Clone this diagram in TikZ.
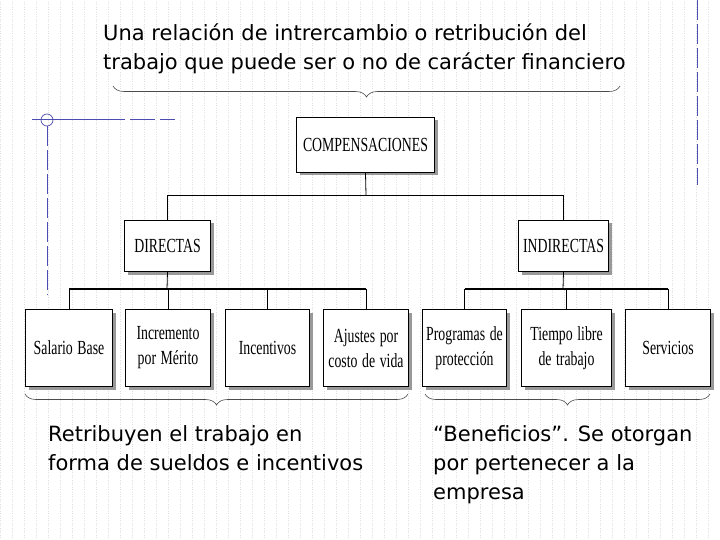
\documentclass[tikz,border=0pt]{standalone}
\usepackage{fontspec}
\usepackage{graphicx}
\setmainfont{DejaVu Sans}
\newfontfamily\boxfont{Liberation Serif}
\newcommand\nb[1]{\scalebox{0.69}[1]{#1}}
\usetikzlibrary{decorations.pathreplacing,shadows}
\begin{document}
\begin{tikzpicture}[x=1pt,y=-1pt,
  bx/.style={draw,line width=1pt,fill=white,inner sep=0pt,anchor=north west,
    drop shadow={shadow xshift=3pt,shadow yshift=-3pt,fill=gray!80,opacity=1},
    font=\boxfont\fontsize{20}{25}\selectfont,align=center,
    text width=#1},
  conn/.style={line width=0.8pt},
  bus/.style={line width=1.6pt},
  br/.style={decorate,decoration={brace,amplitude=11pt,mirror},draw=black!70,line width=0.6pt},
  txt/.style={font=\fontsize{21}{29}\selectfont,align=left,anchor=north west,inner sep=0pt}]
\useasboundingbox (0,0) rectangle (720,540);
\draw[gray!25,dotted,step=12] (0,0) grid (720,540);
% decorations
\draw[blue!40!gray,line width=0.7pt] (32,119) -- (100,119);
\draw[blue!40!gray,line width=0.7pt,dash pattern=on 25pt off 5pt] (100,119) -- (175,119);
\draw[blue!40!gray,line width=0.7pt] (47,120) circle (6);
\draw[blue!40!gray,line width=0.7pt,dash pattern=on 20pt off 4pt] (47,126) -- (47,295);
\draw[blue!40!gray,line width=0.7pt,dash pattern=on 20pt off 4pt] (697,0) -- (697,185);
% top text
\node[txt] (t1) at (103,24) {Una relación de intrercambio o retribución del\\trabajo que puede ser o no de carácter financiero};
\coordinate (b1a) at (113,86); \coordinate (b1b) at (620,86);
\draw[br] (b1a) -- (b1b);
% boxes
\node[bx=138pt,minimum height=55pt] (comp) at (296,117) {\nb{COMPENSACIONES}};
\node[bx=86pt,minimum height=51pt] (dir) at (124,220) {\nb{DIRECTAS}};
\node[bx=90pt,minimum height=51pt] (ind) at (518,220) {\nb{INDIRECTAS}};
\foreach \n/\x/\w/\t in {s1/25/87/\nb{Salario Base},s2/125/85/\nb{Incremento}\\\nb{por Mérito},s3/225/84/\nb{Incentivos},s4/323/85/\nb{Ajustes por}\\\nb{costo de vida},s5/422/84/\nb{Programas de}\\\nb{protección},s6/521/90/\nb{Tiempo libre}\\\nb{de trabajo},s7/625/85/\nb{Servicios}}
  \node[bx=\w pt,minimum height=77pt] (\n) at (\x,309) {\t};
% connectors
\coordinate (j0) at (366,195);
\draw[conn] (comp.south) -- (j0);
\draw[conn] (dir.north) |- (ind.north |- j0) -- (ind.north);
\coordinate (jl) at (167,289); \coordinate (jr) at (563,289);
\draw[conn] (dir.south) -- (jl);
\draw[conn] (ind.south) -- (jr);
\draw[bus] (s1.north |- jl) -- (s4.north |- jl);
\draw[bus] (s5.north |- jr) -- (s7.north |- jr);
\foreach \n in {s1,s2,s3,s4} \draw[conn] (\n.north |- jl) -- (\n.north);
\foreach \n in {s5,s6,s7} \draw[conn] (\n.north |- jr) -- (\n.north);
% bottom braces
\coordinate (b2a) at (25,394); \coordinate (b2b) at (408,394);
\draw[br] (b2a) -- (b2b);
\coordinate (b3a) at (425,394); \coordinate (b3b) at (710,394);
\draw[br] (b3a) -- (b3b);
\node[txt] (t2) at (48,425) {Retribuyen el trabajo en\\forma de sueldos e incentivos};
\node[txt] (t3) at (433,425) {“Beneficios”. Se otorgan\\por pertenecer a la\\empresa};
\end{tikzpicture}
\end{document}
